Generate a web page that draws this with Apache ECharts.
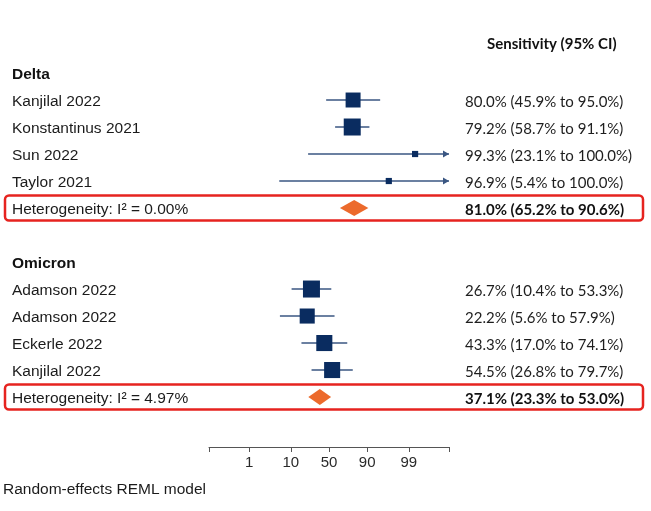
<!DOCTYPE html>
<html>
<head>
<meta charset="utf-8">
<script src="https://cdn.jsdelivr.net/npm/echarts@6/dist/echarts.min.js"></script>
<style>
  html, body { margin: 0; padding: 0; background: #fff; }
  #main { width: 651px; height: 511px; }
</style>
</head>
<body>
<div id="main"></div>
<script>
// sensitivity per study, in %
const deltaStudies = ['Kanjilal 2022', 'Konstantinus 2021', 'Sun 2022', 'Taylor 2021'];
const deltaSens = [80.0, 79.2, 99.3, 96.9];
const deltaLower = [45.9, 58.7, 23.1, 5.4];
const deltaUpper = [95.0, 91.1, 100.0, 100.0];
const deltaWeight = [38, 49, 6.5, 6.5];
const deltaPooled = [81.0, 65.2, 90.6];
const deltaI2 = '0.00%';

const omicronStudies = ['Adamson 2022', 'Adamson 2022', 'Eckerle 2022', 'Kanjilal 2022'];
const omicronSens = [26.7, 22.2, 43.3, 54.5];
const omicronLower = [10.4, 5.6, 17.0, 26.8];
const omicronUpper = [53.3, 57.9, 74.1, 79.7];
const omicronWeight = [28, 22, 25, 25];
const omicronPooled = [37.1, 23.3, 53.0];
const omicronI2 = '4.97%';

const axisTicks = [1, 10, 50, 90, 99];
const axisEnds = [0.1, 99.9];

// logit scale helpers
function logit(p) { return Math.log(p / (100 - p)); }
const XMIN = logit(axisEnds[0]);
const XMAX = logit(axisEnds[1]);
function clampX(p) { return Math.min(XMAX, Math.max(XMIN, logit(p))); }
function pct(v) { return v.toFixed(1) + '%'; }
function ciText(est, lo, hi) { return pct(est) + ' (' + pct(lo) + ' to ' + pct(hi) + ')'; }

const groups = [
  { name: 'Delta', studies: deltaStudies, sens: deltaSens, lo: deltaLower, hi: deltaUpper, w: deltaWeight, pooled: deltaPooled, i2: deltaI2 },
  { name: 'Omicron', studies: omicronStudies, sens: omicronSens, lo: omicronLower, hi: omicronUpper, w: omicronWeight, pooled: omicronPooled, i2: omicronI2 }
];

// one row per line of the table
let rows = [];
groups.forEach((g, gi) => {
  if (gi > 0) rows.push({ kind: 'blank' });
  rows.push({ kind: 'group', left: g.name });
  let maxW = Math.max(...g.w);
  g.studies.forEach((s, i) => {
    rows.push({ kind: 'study', left: s, est: g.sens[i], lo: g.lo[i], hi: g.hi[i], w: g.w[i] / maxW });
  });
  rows.push({ kind: 'pooled', left: 'Heterogeneity: I\u00b2 = ' + g.i2, est: g.pooled[0], lo: g.pooled[1], hi: g.pooled[2] });
});

let ciData = [], squareData = [], diamondData = [], boxData = [];
rows.forEach((r, i) => {
  if (r.kind === 'study') {
    ciData.push([clampX(r.lo), clampX(r.hi), i, r.lo <= 0 ? 1 : 0, r.hi >= 100 ? 1 : 0]);
    squareData.push({ value: [logit(r.est), i], symbolSize: 17 * Math.sqrt(r.w) });
  }
  if (r.kind === 'pooled') {
    diamondData.push([logit(r.lo), logit(r.est), logit(r.hi), i]);
    boxData.push([0, i]);
  }
});
let labelRows = rows.map((r, i) => i).filter(i => rows[i].kind !== 'blank');

const LEFT_FONT = '"Liberation Sans", Arial, sans-serif';
const RIGHT_FONT = 'Lato, "Open Sans", sans-serif';
const LINE = '#3a5682';

let chart = echarts.init(document.getElementById('main'));
chart.setOption({
  backgroundColor: '#fff',
  animation: false,
  title: [
    {
      text: 'Sensitivity (95% CI)', left: 487, top: 37, padding: 0,
      textStyle: { fontFamily: RIGHT_FONT, fontWeight: 'bold', fontSize: 15, color: '#111' }
    },
    {
      text: 'Random-effects REML model', left: 3, top: 482, padding: 0,
      textStyle: { fontFamily: LEFT_FONT, fontWeight: 'normal', fontSize: 15.5, color: '#1b1b1b' }
    }
  ],
  grid: { left: 209, right: 202, top: 19, bottom: 64 },
  xAxis: {
    type: 'value', min: XMIN, max: XMAX,
    axisLine: { show: true, onZero: false, lineStyle: { color: '#555', width: 1 } },
    axisTick: { show: true, length: 5, lineStyle: { color: '#555' }, customValues: [XMIN].concat(axisTicks.map(logit), [XMAX]) },
    axisLabel: {
      customValues: axisTicks.map(logit), margin: 8,
      fontFamily: LEFT_FONT, fontSize: 15, color: '#2a2a2a',
      formatter: v => String(Math.round(100 / (1 + Math.exp(-v))))
    },
    splitLine: { show: false }
  },
  yAxis: [
    {
      type: 'value', inverse: true, min: -2, max: 13.85, position: 'left',
      axisLine: { show: false, onZero: false }, axisTick: { show: false }, splitLine: { show: false },
      axisLabel: {
        customValues: labelRows, margin: 197, align: 'left',
        formatter: v => {
          let r = rows[Math.round(v)];
          return r.kind === 'group' ? '{b|' + r.left + '}' : '{n|' + r.left + '}';
        },
        rich: {
          b: { fontFamily: LEFT_FONT, fontSize: 15.5, fontWeight: 'bold', color: '#111', padding: [3, 0, 0, 0] },
          n: { fontFamily: LEFT_FONT, fontSize: 15.5, color: '#1b1b1b', padding: [3, 0, 0, 0] }
        }
      }
    },
    {
      type: 'value', inverse: true, min: -2, max: 13.85, position: 'right',
      axisLine: { show: false, onZero: false }, axisTick: { show: false }, splitLine: { show: false },
      axisLabel: {
        customValues: labelRows.filter(i => rows[i].kind !== 'group'), margin: 16, align: 'left',
        formatter: v => {
          let r = rows[Math.round(v)];
          let t = ciText(r.est, r.lo, r.hi);
          return r.kind === 'pooled' ? '{b|' + t + '}' : '{n|' + t + '}';
        },
        rich: {
          b: { fontFamily: RIGHT_FONT, fontSize: 15, fontWeight: 'bold', color: '#111', padding: [4, 0, 0, 0] },
          n: { fontFamily: RIGHT_FONT, fontSize: 15, color: '#1e1e1e', padding: [4, 0, 0, 0] }
        }
      }
    }
  ],
  series: [
    {
      // red frames around the pooled rows
      type: 'custom', clip: false, silent: true,
      encode: { x: 0, y: 1 },
      data: boxData,
      renderItem: (params, api) => {
        let c = api.coord([0, api.value(1)]);
        return {
          type: 'rect',
          shape: { x: 5, y: c[1] - 12.5, width: api.getWidth() - 13, height: 25, r: 4 },
          style: { fill: 'none', stroke: '#e6231f', lineWidth: 2.5 }
        };
      }
    },
    {
      // confidence intervals, arrows where the bound runs off the axis
      type: 'custom', clip: false, silent: true,
      encode: { x: [0, 1], y: 2 },
      data: ciData,
      renderItem: (params, api) => {
        let y = api.value(2);
        let p0 = api.coord([api.value(0), y]);
        let p1 = api.coord([api.value(1), y]);
        let kids = [{
          type: 'line',
          shape: { x1: p0[0], y1: p0[1], x2: p1[0], y2: p1[1] },
          style: { stroke: LINE, lineWidth: 1.6 }
        }];
        if (api.value(4)) {
          kids.push({ type: 'polygon', shape: { points: [[p1[0], p1[1]], [p1[0] - 6, p1[1] - 3.5], [p1[0] - 6, p1[1] + 3.5]] }, style: { fill: LINE } });
        }
        if (api.value(3)) {
          kids.push({ type: 'polygon', shape: { points: [[p0[0], p0[1]], [p0[0] + 6, p0[1] - 3.5], [p0[0] + 6, p0[1] + 3.5]] }, style: { fill: LINE } });
        }
        return { type: 'group', children: kids };
      }
    },
    {
      type: 'scatter', symbol: 'rect', silent: true, clip: false,
      itemStyle: { color: '#0a2c60', opacity: 1 },
      data: squareData
    },
    {
      // pooled estimate diamonds
      type: 'custom', clip: false, silent: true,
      encode: { x: [0, 1, 2], y: 3 },
      data: diamondData,
      renderItem: (params, api) => {
        let y = api.value(3);
        let a = api.coord([api.value(0), y]);
        let m = api.coord([api.value(1), y]);
        let b = api.coord([api.value(2), y]);
        return {
          type: 'polygon',
          shape: { points: [[a[0], a[1]], [m[0], m[1] - 8], [b[0], b[1]], [m[0], m[1] + 8]] },
          style: { fill: '#ec6a2c' }
        };
      }
    }
  ]
});
</script>
</body>
</html>
